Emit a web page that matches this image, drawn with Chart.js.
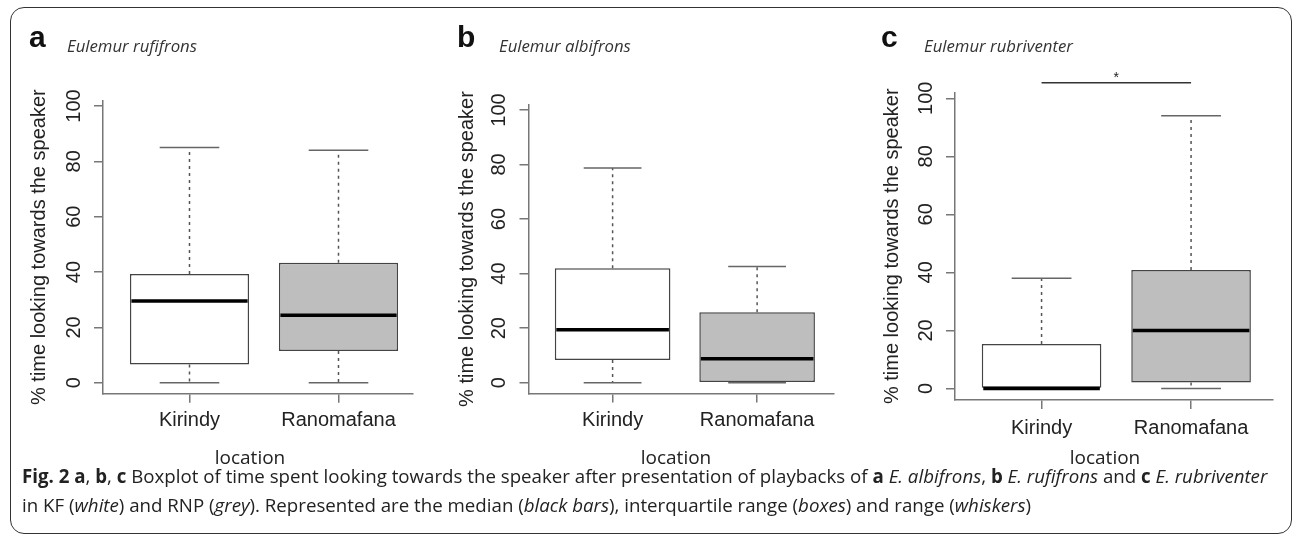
<!DOCTYPE html>
<html>
<head>
<meta charset="utf-8">
<script src="https://cdn.jsdelivr.net/npm/chart.js@4.4.1/dist/chart.umd.min.js"></script>
<style>
html,body{margin:0;padding:0;background:#fff;}
#page{position:relative;width:1292px;height:536px;overflow:hidden;background:#fff;}
#frame{position:absolute;left:10px;top:7px;width:1282px;height:527px;border:1.5px solid #333;border-radius:14px;box-sizing:border-box;}
canvas{position:absolute;top:0;}
.t{position:absolute;white-space:nowrap;line-height:1;color:#222;}
.letter{font-family:'Liberation Sans',Arial,sans-serif;font-weight:bold;font-size:30px;color:#111;}
.species{font-family:'Open Sans',sans-serif;font-style:italic;font-size:15.5px;color:#333;}
.loc{font-family:'Open Sans',sans-serif;font-size:19px;color:#222;}
.cap{font-family:'Open Sans',sans-serif;font-size:15.5px;color:#222;}
</style>
</head>
<body>
<div id="page">
  <div id="frame"></div>
  <canvas id="ca" width="430" height="536" style="left:0px"></canvas>
  <canvas id="cb" width="430" height="536" style="left:430px"></canvas>
  <canvas id="cc" width="432" height="536" style="left:860px"></canvas>
  <div class="t cap" id="cap1"><b>Fig. 2</b> <b>a</b>, <b>b</b>, <b>c</b> Boxplot of time spent looking towards the speaker after presentation of playbacks of <b>a</b> <i>E. albifrons</i>, <b>b</b> <i>E. rufifrons</i> and <b>c</b> <i>E. rubriventer</i></div>
  <div class="t cap" id="cap2">in KF (<i>white</i>) and RNP (<i>grey</i>). Represented are the median (<i>black bars</i>), interquartile range (<i>boxes</i>) and range (<i>whiskers</i>)</div>
</div>
<script>
// ---------- data ----------
const categories = ['Kirindy', 'Ranomafana'];
const yTickValues = [0, 20, 40, 60, 80, 100];
const panelLetters = ['a', 'b', 'c'];
const speciesNames = ['Eulemur rufifrons', 'Eulemur albifrons', 'Eulemur rubriventer'];
const yTitle = '% time looking towards the speaker';
const xTitle = 'location';

// panel a: Eulemur rufifrons
const rufMin = [0, 0];
const rufQ1 = [6.6, 11.5];
const rufMed = [29.5, 24.4];
const rufQ3 = [39.3, 43.4];
const rufMax = [85, 84];

// panel b: Eulemur albifrons
const albMin = [0, 0];
const albQ1 = [8.3, 0];
const albMed = [19.4, 8.8];
const albQ3 = [42, 25.8];
const albMax = [78.7, 42.6];

// panel c: Eulemur rubriventer
const rubMin = [0, 0];
const rubQ1 = [0, 2];
const rubMed = [0, 20];
const rubQ3 = [15.3, 40.8];
const rubMax = [38, 94];

// significance (panel c)
const sigPair = [1, 2];
const sigLevel = 105.4;
const sigStarLevel = 107;
const sigLabel = '*';

const boxFills = ['#ffffff', '#bebebe'];

// ---------- layout / style (not data) ----------
const panels = [
  {id:'ca', min:rufMin, q1:rufQ1, med:rufMed, q3:rufQ3, max:rufMax, sig:false,
   pad:{left:27, right:17, top:100.5, bottom:92.2}, yW:76, xmin:0.4195, xmax:2.5, xPad:6,
   letterX:29, speciesX:67, speciesW:130, locX:250},
  {id:'cb', min:albMin, q1:albQ1, med:albMed, q3:albQ3, max:albMax, sig:false,
   pad:{left:25, right:26, top:104.5, bottom:92.4}, yW:73.5, xmin:0.418, xmax:2.532, xPad:6,
   letterX:457, speciesX:499, speciesW:132, locX:676},
  {id:'cc', min:rubMin, q1:rubQ1, med:rubMed, q3:rubQ3, max:rubMax, sig:true,
   pad:{left:20, right:19.3, top:92.5, bottom:86}, yW:75, xmin:0.421, xmax:2.546, xPad:7,
   letterX:881, speciesX:924, speciesW:149, locX:1105}
];
const panelStats = {};

const axisFont = {family:'Liberation Sans', size:20};
const axisColor = '#777';

const boxExtras = {
  id: 'boxExtras',
  afterDatasetsDraw(chart) {
    const st = panelStats[chart.canvas.id];
    if (!st) return;
    const ys = chart.scales.y, xs = chart.scales.x;
    const bars = chart.getDatasetMeta(0).data;
    const ctx = chart.ctx;
    ctx.save();
    bars.forEach((bar, i) => {
      const p = bar.getProps(['x', 'width'], true);
      const cx = p.x, half = p.width / 2;
      const yMin = ys.getPixelForValue(st.min[i]);
      const yQ1 = ys.getPixelForValue(st.q1[i]);
      const yMed = ys.getPixelForValue(st.med[i]);
      const yQ3 = ys.getPixelForValue(st.q3[i]);
      const yMax = ys.getPixelForValue(st.max[i]);
      ctx.strokeStyle = '#555';
      ctx.lineWidth = 1.5;
      ctx.setLineDash([3, 4]);
      ctx.beginPath();
      ctx.moveTo(cx, yQ3); ctx.lineTo(cx, yMax);
      ctx.moveTo(cx, yQ1); ctx.lineTo(cx, yMin);
      ctx.stroke();
      ctx.setLineDash([]);
      ctx.strokeStyle = '#666';
      ctx.beginPath();
      ctx.moveTo(cx - half / 2, yMax); ctx.lineTo(cx + half / 2, yMax);
      ctx.moveTo(cx - half / 2, yMin); ctx.lineTo(cx + half / 2, yMin);
      ctx.stroke();
      ctx.strokeStyle = '#000';
      ctx.lineWidth = 3.5;
      ctx.beginPath();
      ctx.moveTo(cx - half + 1.5, yMed); ctx.lineTo(cx + half - 1.5, yMed);
      ctx.stroke();
    });
    if (st.sig) {
      ctx.fillStyle = '#222';
      ctx.font = '14px "Liberation Sans"';
      ctx.textAlign = 'center';
      ctx.textBaseline = 'middle';
      ctx.fillText(sigLabel, xs.getPixelForValue((sigPair[0] + sigPair[1]) / 2), ys.getPixelForValue(sigStarLevel));
    }
    ctx.restore();
  }
};

function makePanel(cfg) {
  panelStats[cfg.id] = cfg;
  const datasets = [{
    type: 'bar',
    data: categories.map((c, i) => ({x: i + 1, y: [cfg.q1[i], cfg.q3[i]]})),
    backgroundColor: boxFills,
    borderColor: '#444',
    borderWidth: 1.5,
    borderSkipped: false,
    barPercentage: 0.8,
    categoryPercentage: 1
  }];
  if (cfg.sig) {
    datasets.push({
      type: 'line',
      data: sigPair.map(v => ({x: v, y: sigLevel})),
      borderColor: '#333', borderWidth: 1.5, pointRadius: 0, fill: false, clip: false
    });
  }
  new Chart(document.getElementById(cfg.id), {
    type: 'bar',
    data: {datasets},
    options: {
      responsive: false, animation: false, devicePixelRatio: 1, events: [],
      layout: {padding: cfg.pad},
      plugins: {legend: {display: false}, tooltip: {enabled: false}, title: {display: false}},
      scales: {
        x: {
          type: 'linear', min: cfg.xmin, max: cfg.xmax, offset: false, bounds: 'data',
          afterBuildTicks: s => { s.ticks = categories.map((c, i) => ({value: i + 1})); },
          afterFit: s => { s.height = 50; },
          ticks: {callback: v => categories[Math.round(v) - 1], font: axisFont, color: '#222',
                  padding: cfg.xPad, maxRotation: 0, autoSkip: false},
          grid: {offset: false, drawOnChartArea: false, drawTicks: true, tickLength: 9, color: axisColor, lineWidth: 1.5},
          border: {display: true, color: axisColor, width: 1.5}
        },
        y: {
          type: 'linear', min: -4, max: 102, bounds: 'data',
          afterBuildTicks: s => { s.ticks = yTickValues.map(v => ({value: v})); },
          afterFit: s => { s.width = cfg.yW; },
          ticks: {font: axisFont, color: '#222', minRotation: 90, maxRotation: 90, crossAlign: 'center', padding: 3},
          grid: {drawOnChartArea: false, drawTicks: true, tickLength: 9, color: axisColor, lineWidth: 1.5},
          border: {display: true, color: axisColor, width: 1.5},
          title: {display: true, text: yTitle, font: axisFont, color: '#222', padding: 0}
        }
      }
    },
    plugins: [boxExtras]
  });
}

const K_OPEN = 0.888, K_LIB = 0.8465;
const page = document.getElementById('page');
function addText(cls, txt) {
  const el = document.createElement('div');
  el.className = 't ' + cls;
  el.textContent = txt;
  page.appendChild(el);
  return el;
}
function fit(el, target) {
  const w = el.getBoundingClientRect().width;
  const fs = parseFloat(getComputedStyle(el).fontSize);
  const nf = fs * target / w;
  el.style.fontSize = nf + 'px';
  return nf;
}
function place(el, x, baseline, k, align) {
  const fs = parseFloat(getComputedStyle(el).fontSize);
  el.style.top = (baseline - k * fs) + 'px';
  const w = el.getBoundingClientRect().width;
  el.style.left = (align === 'center' ? x - w / 2 : x) + 'px';
}

panels.forEach((cfg, i) => {
  makePanel(cfg);
  const L = addText('letter', panelLetters[i]);
  place(L, cfg.letterX, 47, K_LIB);
  const S = addText('species', speciesNames[i]);
  fit(S, cfg.speciesW);
  place(S, cfg.speciesX, 53, K_OPEN);
  const X = addText('loc', xTitle);
  place(X, cfg.locX, 465, K_OPEN, 'center');
});

const c1 = document.getElementById('cap1');
const c2 = document.getElementById('cap2');
const fsCap = fit(c1, 1246);
c2.style.fontSize = fsCap + 'px';
place(c1, 22, 484, K_OPEN);
place(c2, 22, 513, K_OPEN);
</script>
</body>
</html>
